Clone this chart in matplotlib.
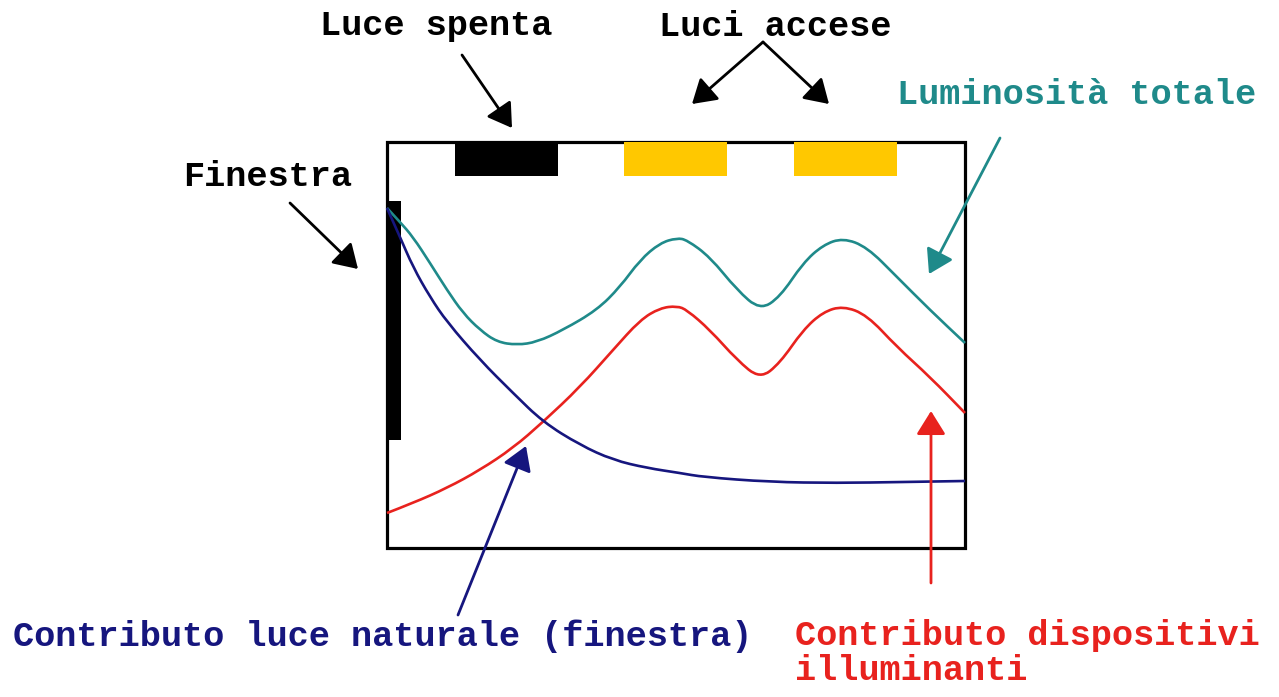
import matplotlib
matplotlib.use("Agg")
import matplotlib.pyplot as plt
from matplotlib.patches import Rectangle, FancyArrowPatch, PathPatch
from matplotlib.path import Path

# ---- data (pixel-space positions) ----
teal_x = [387, 400, 413, 430, 447, 463, 480, 497, 517, 537, 563, 597, 620, 640, 660, 677,
          687, 710, 737, 760, 780, 803, 823, 843, 867, 897, 930, 965]
teal_y = [208, 222, 237, 263, 290, 313, 330, 342, 345, 342, 330, 310, 287, 260, 243, 238,
          240, 257, 290, 310, 297, 263, 245, 238, 247, 277, 310, 343]

red_x = [387, 413, 447, 480, 513, 543, 580, 613, 640, 660, 677,
         687, 710, 737, 760, 780, 803, 823, 843, 867, 897, 930, 965]
red_y = [513, 503, 488, 470, 448, 422, 387, 350, 320, 308, 306,
         310, 330, 360, 379, 363, 330, 312, 306, 315, 347, 377, 413]

blue_x = [387, 400, 413, 430, 447, 480, 513, 543, 580, 613, 647, 680, 703, 770, 837, 903, 965]
blue_y = [208, 237, 267, 297, 322, 360, 393, 422, 445, 460, 468, 473, 477, 482, 483, 482, 481]

lamp_off_x = [455]
lamp_on_x = [624, 794]
lamp_w = 103

labels_top = ["Luce spenta", "Luci accese", "Luminosità totale", "Finestra"]
label_natural = "Contributo luce naturale (finestra)"
label_devices = ["Contributo dispositivi", "illuminanti"]

TEAL = "#1F8A8A"
NAVY = "#16167E"
RED = "#E8221E"
YELLOW = "#FFC800"

fig = plt.figure(figsize=(12.79, 6.97), dpi=100)
ax = fig.add_axes([0, 0, 1, 1])
ax.set_xlim(0, 1279)
ax.set_ylim(697, 0)
ax.axis("off")

# room box
ax.add_patch(Rectangle((387, 142), 578, 406, fill=False, ec="black", lw=2.3, zorder=3))
# lamps
for x in lamp_off_x:
    ax.add_patch(Rectangle((x, 142), lamp_w, 34, fc="black", ec="none", zorder=4))
for x in lamp_on_x:
    ax.add_patch(Rectangle((x, 142), lamp_w, 34, fc=YELLOW, ec="none", zorder=4))
# window
ax.add_patch(Rectangle((387, 201), 14, 239, fc="black", ec="none", zorder=2))


def smooth_curve(xs, ys, color):
    """Draw a smooth path through the read points using quadratic Bezier segments."""
    pts = list(zip(xs, ys))
    verts = [pts[0]]
    codes = [Path.MOVETO]
    for i in range(1, len(pts) - 1):
        mid = ((pts[i][0] + pts[i + 1][0]) / 2, (pts[i][1] + pts[i + 1][1]) / 2)
        verts += [pts[i], mid]
        codes += [Path.CURVE3, Path.CURVE3]
    verts.append(pts[-1])
    codes.append(Path.LINETO)
    ax.add_patch(PathPatch(Path(verts, codes), fill=False, ec=color, lw=1.9,
                           joinstyle="round", zorder=5))


smooth_curve(teal_x, teal_y, TEAL)
smooth_curve(red_x, red_y, RED)
smooth_curve(blue_x, blue_y, NAVY)

font = dict(family="Liberation Mono", weight="bold", fontsize=25.4)


def arrow(p0, p1, color):
    a = FancyArrowPatch(p0, p1, arrowstyle="-|>,head_length=0.45,head_width=0.28",
                        mutation_scale=32, color=color, lw=2.0, shrinkA=0, shrinkB=0,
                        zorder=6)
    ax.add_patch(a)


# top labels
ax.text(436, 26, labels_top[0], color="black", ha="center", va="center", **font)
ax.text(775, 26, labels_top[1], color="black", ha="center", va="center", **font)
ax.text(1077, 95, labels_top[2], color=TEAL, ha="center", va="center", **font)
ax.text(268, 177, labels_top[3], color="black", ha="center", va="center", **font)

arrow((462, 55), (512, 128), "black")
arrow((763, 42), (692, 104), "black")
arrow((763, 42), (829, 104), "black")
arrow((1000, 138), (929, 274), TEAL)
arrow((290, 203), (358, 269), "black")

# bottom labels
ax.text(13, 636, label_natural, color=NAVY, ha="left", va="center", **font)
ax.text(795, 636, label_devices[0], color=RED, ha="left", va="center", **font)
ax.text(795, 670, label_devices[1], color=RED, ha="left", va="center", **font)

arrow((458, 615), (526, 446), NAVY)
arrow((931, 583), (931, 411), RED)

fig.savefig("out.png", dpi=100)
